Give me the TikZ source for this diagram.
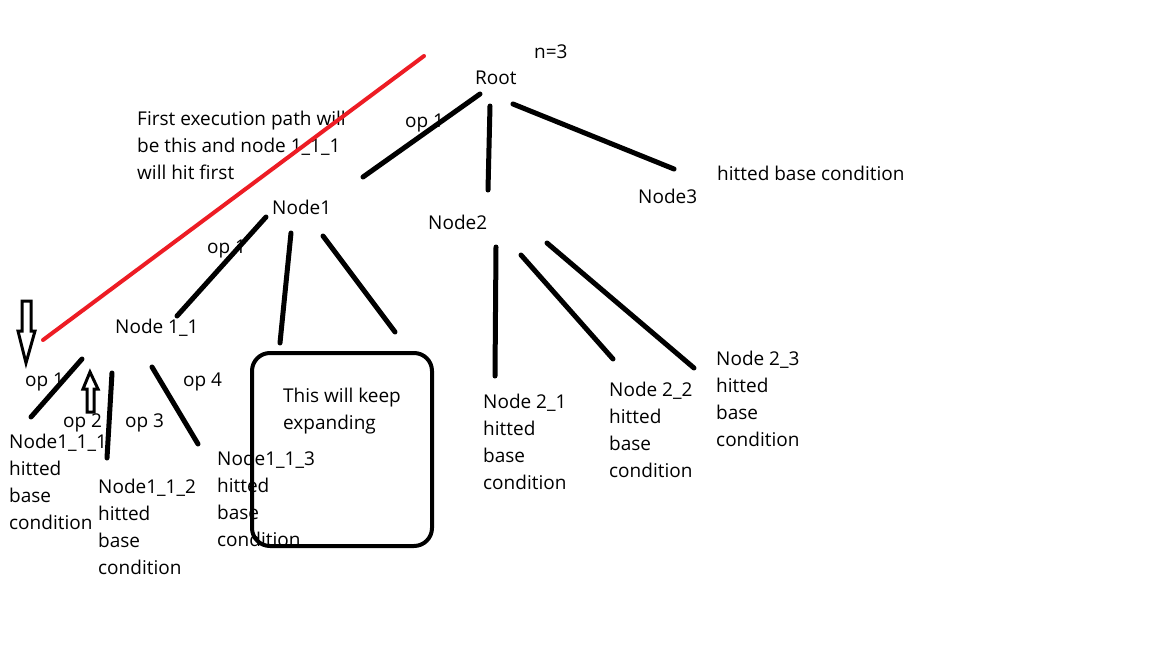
\documentclass[tikz,border=0pt]{standalone}
\usepackage{fontspec}
\setmainfont{Open Sans}
\definecolor{paintred}{RGB}{237,28,36}
\tikzset{
  lbl/.style={inner sep=0pt, anchor=base west, align=left, font=\fontsize{19}{27}\selectfont},
  edge/.style={line width=5pt, line cap=round},
  pointer/.style={line width=3pt, fill=white, line join=miter},
}
\begin{document}
\begin{tikzpicture}[x=1pt,y=-1pt]
\useasboundingbox[fill=white] (0,0) rectangle (1152,648);
% multi-line labels sit on the baseline of their last line
\node[lbl] (N) at (534,58) {n=3};
\node[lbl] (Root) at (475,84) {Root};
\node[lbl] (Path) at (137,179) {First execution path will\\be this and node 1\_1\_1\\will hit first};
\node[lbl] (OpRoot) at (405,127) {op 1};
\node[lbl] (Node1) at (272,214) {Node1};
\node[lbl] (Node2) at (428,229) {Node2};
\node[lbl] (Node3) at (638,203) {Node3};
\node[lbl] (Hit3) at (717,180) {hitted base condition};
\node[lbl] (OpNode1) at (207,253) {op 1};
\node[lbl] (Node11) at (115,333) {Node 1\_1};
\node[lbl] (OpA) at (25,386) {op 1};
\node[lbl] (OpB) at (63,427) {op 2};
\node[lbl] (OpC) at (125,427) {op 3};
\node[lbl] (OpD) at (183,386) {op 4};
\node[lbl] (Node111) at (9,529) {Node1\_1\_1\\hitted\\base\\condition};
\node[lbl] (Node112) at (98,574) {Node1\_1\_2\\hitted\\base\\condition};
\node[lbl] (Node113) at (217,546) {Node1\_1\_3\\hitted\\base\\condition};
\node[lbl] (Node21) at (483,489) {Node 2\_1\\hitted\\base\\condition};
\node[lbl] (Node22) at (609,477) {Node 2\_2\\hitted\\base\\condition};
\node[lbl] (Node23) at (716,446) {Node 2\_3\\hitted\\base\\condition};
\node[lbl] (Keep) at (283,429) {This will keep\\expanding};
\node[draw, fill=none, line width=4pt, rounded corners=18pt, inner sep=0pt, minimum width=180pt, minimum height=193pt, anchor=north west] (Box) at (250,351) {};

\draw[edge] ([shift={(5,10)}]Root.base west) -- ([shift={(91,-37)}]Node1.base west);
\draw[edge] ([shift={(15,22)}]Root.base west) -- ([shift={(60,-39)}]Node2.base west);
\draw[edge] ([shift={(38,20)}]Root.base west) -- ([shift={(36,-34)}]Node3.base west);
\draw[edge] ([shift={(-6,3)}]Node1.base west) -- ([shift={(62,-17)}]Node11.base west);
\draw[edge] ([shift={(19,19)}]Node1.base west) -- ([shift={(30,-8)}]Box.north west);
\draw[edge] ([shift={(51,22)}]Node1.base west) -- ([shift={(145,-19)}]Box.north west);
\draw[edge] ([shift={(68,18)}]Node2.base west) -- ([shift={(12,-113)}]Node21.base west);
\draw[edge] ([shift={(93,26)}]Node2.base west) -- ([shift={(4,-118)}]Node22.base west);
\draw[edge] ([shift={(119,14)}]Node2.base west) -- ([shift={(-22,-78)}]Node23.base west);
\draw[edge] ([shift={(-33,26)}]Node11.base west) -- ([shift={(22,-112)}]Node111.base west);
\draw[edge] ([shift={(-3,40)}]Node11.base west) -- ([shift={(9,-116)}]Node112.base west);
\draw[edge] ([shift={(37,34)}]Node11.base west) -- ([shift={(-19,-102)}]Node113.base west);

\draw[paintred, line width=4pt, line cap=round] (43,340) -- (424,56);
\draw[pointer] (22,301) -- (31,301) -- (31,331) -- (35,331) -- (26,363) -- (18,331) -- (22,331) -- cycle;
\draw[pointer] (90,372) -- (98,389) -- (94,389) -- (94,412) -- (87,412) -- (87,389) -- (83,389) -- cycle;
\end{tikzpicture}
\end{document}
